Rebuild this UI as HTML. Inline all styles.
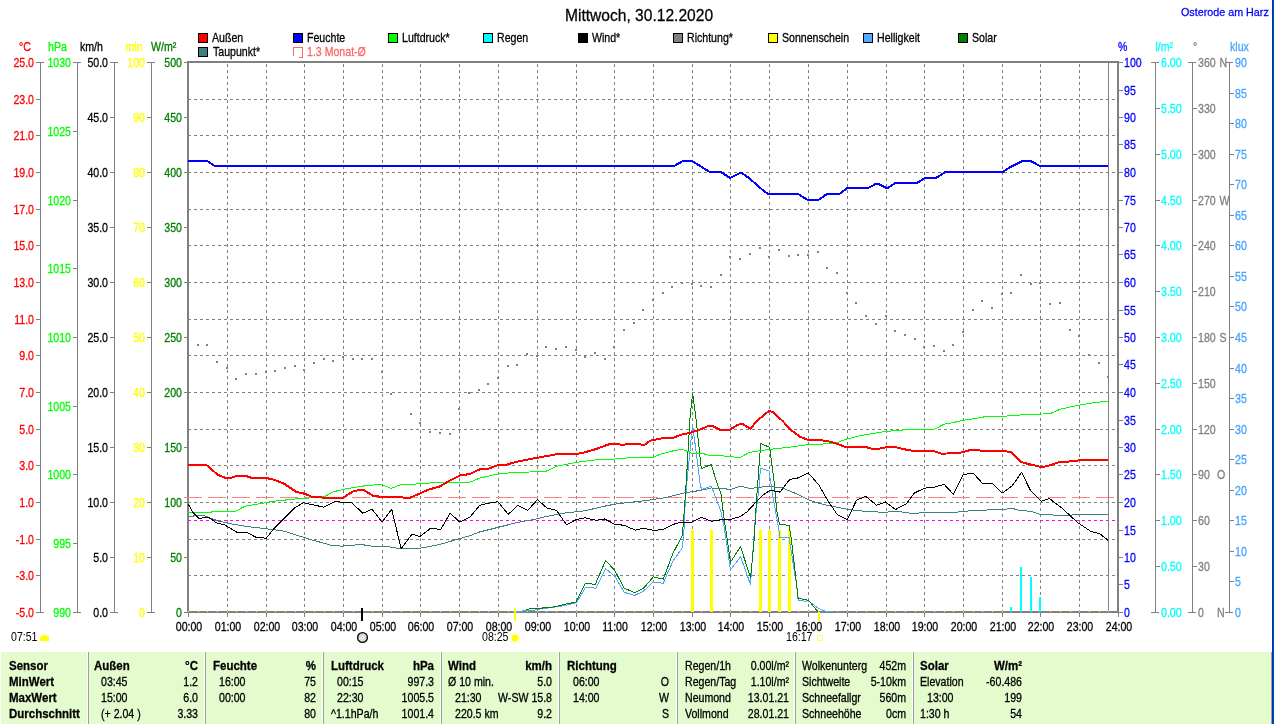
<!DOCTYPE html>
<html><head><meta charset="utf-8"><title>Mittwoch, 30.12.2020</title>
<style>html,body{margin:0;padding:0;background:#fff;overflow:hidden}svg{display:block;will-change:transform}text{font-family:"Liberation Sans",Arial,sans-serif;stroke-width:0.25px}</style>
</head><body>
<svg width="1274" height="724" viewBox="0 0 1274 724" shape-rendering="crispEdges">
<text transform="translate(639,21) scale(1.0,1.1)" fill="#000" stroke="#000" stroke-width="0" font-size="15.6" text-anchor="middle">Mittwoch, 30.12.2020</text>
<text transform="translate(1181,16) scale(1.0,1.03)" fill="#0000FF" stroke="#0000FF" stroke-width="0.12" font-size="10.75">Osterode am Harz</text>
<rect x="1272" y="0" width="1" height="724" fill="#0036B0"/>
<rect x="1273" y="0" width="1" height="724" fill="#0046C4"/>
<rect x="198.5" y="33.5" width="9" height="9" fill="#FF0000" stroke="#000"/>
<text transform="translate(212,42) scale(1.0,1.15)" fill="#000" stroke="#000" stroke-width="0.12" font-size="10.6">Außen</text>
<rect x="293.5" y="33.5" width="9" height="9" fill="#0000FF" stroke="#000"/>
<text transform="translate(307,42) scale(1.0,1.15)" fill="#000" stroke="#000" stroke-width="0.12" font-size="10.6">Feuchte</text>
<rect x="388.5" y="33.5" width="9" height="9" fill="#00FF00" stroke="#000"/>
<text transform="translate(402,42) scale(1.0,1.15)" fill="#000" stroke="#000" stroke-width="0.12" font-size="10.6">Luftdruck*</text>
<rect x="483.5" y="33.5" width="9" height="9" fill="#00FFFF" stroke="#000"/>
<text transform="translate(497,42) scale(1.0,1.15)" fill="#000" stroke="#000" stroke-width="0.12" font-size="10.6">Regen</text>
<rect x="578.5" y="33.5" width="9" height="9" fill="#000000" stroke="#000"/>
<text transform="translate(592,42) scale(1.0,1.15)" fill="#000" stroke="#000" stroke-width="0.12" font-size="10.6">Wind*</text>
<rect x="673.5" y="33.5" width="9" height="9" fill="#808080" stroke="#000"/>
<text transform="translate(687,42) scale(1.0,1.15)" fill="#000" stroke="#000" stroke-width="0.12" font-size="10.6">Richtung*</text>
<rect x="768.5" y="33.5" width="9" height="9" fill="#FFFF00" stroke="#000"/>
<text transform="translate(782,42) scale(1.0,1.15)" fill="#000" stroke="#000" stroke-width="0.12" font-size="10.6">Sonnenschein</text>
<rect x="863.5" y="33.5" width="9" height="9" fill="#55AAFF" stroke="#000"/>
<text transform="translate(877,42) scale(1.0,1.15)" fill="#000" stroke="#000" stroke-width="0.12" font-size="10.6">Helligkeit</text>
<rect x="958.5" y="33.5" width="9" height="9" fill="#008000" stroke="#000"/>
<text transform="translate(972,42) scale(1.0,1.15)" fill="#000" stroke="#000" stroke-width="0.12" font-size="10.6">Solar</text>
<rect x="198.5" y="47.5" width="9" height="9" fill="#408080" stroke="#000"/>
<text transform="translate(213,56) scale(1.0,1.15)" fill="#000" stroke="#000" stroke-width="0.12" font-size="10.6">Taupunkt*</text>
<path d="M293.5,56 V47.5 H302.5 V57.5 H299" fill="none" stroke="#FF6666" stroke-width="1"/>
<text transform="translate(307,56) scale(1.0,1.15)" fill="#FF6666" stroke="#FF6666" stroke-width="0.12" font-size="10.6">1.3 Monat-Ø</text>
<line x1="40.5" y1="62" x2="40.5" y2="613" stroke="#808080" stroke-width="1"/>
<line x1="36" y1="62.5" x2="44" y2="62.5" stroke="#808080" stroke-width="1"/>
<line x1="36" y1="612.5" x2="44" y2="612.5" stroke="#808080" stroke-width="1"/>
<text transform="translate(34,67) scale(1.0,1.15)" fill="#FF0000" stroke="#FF0000" stroke-width="0.12" font-size="10.6" text-anchor="end">25.0</text>
<line x1="36" y1="99.5" x2="40" y2="99.5" stroke="#808080" stroke-width="1"/>
<text transform="translate(34,104) scale(1.0,1.15)" fill="#FF0000" stroke="#FF0000" stroke-width="0.12" font-size="10.6" text-anchor="end">23.0</text>
<line x1="36" y1="135.5" x2="40" y2="135.5" stroke="#808080" stroke-width="1"/>
<text transform="translate(34,140) scale(1.0,1.15)" fill="#FF0000" stroke="#FF0000" stroke-width="0.12" font-size="10.6" text-anchor="end">21.0</text>
<line x1="36" y1="172.5" x2="40" y2="172.5" stroke="#808080" stroke-width="1"/>
<text transform="translate(34,177) scale(1.0,1.15)" fill="#FF0000" stroke="#FF0000" stroke-width="0.12" font-size="10.6" text-anchor="end">19.0</text>
<line x1="36" y1="209.5" x2="40" y2="209.5" stroke="#808080" stroke-width="1"/>
<text transform="translate(34,214) scale(1.0,1.15)" fill="#FF0000" stroke="#FF0000" stroke-width="0.12" font-size="10.6" text-anchor="end">17.0</text>
<line x1="36" y1="245.5" x2="40" y2="245.5" stroke="#808080" stroke-width="1"/>
<text transform="translate(34,250) scale(1.0,1.15)" fill="#FF0000" stroke="#FF0000" stroke-width="0.12" font-size="10.6" text-anchor="end">15.0</text>
<line x1="36" y1="282.5" x2="40" y2="282.5" stroke="#808080" stroke-width="1"/>
<text transform="translate(34,287) scale(1.0,1.15)" fill="#FF0000" stroke="#FF0000" stroke-width="0.12" font-size="10.6" text-anchor="end">13.0</text>
<line x1="36" y1="319.5" x2="40" y2="319.5" stroke="#808080" stroke-width="1"/>
<text transform="translate(34,324) scale(1.0,1.15)" fill="#FF0000" stroke="#FF0000" stroke-width="0.12" font-size="10.6" text-anchor="end">11.0</text>
<line x1="36" y1="355.5" x2="40" y2="355.5" stroke="#808080" stroke-width="1"/>
<text transform="translate(34,360) scale(1.0,1.15)" fill="#FF0000" stroke="#FF0000" stroke-width="0.12" font-size="10.6" text-anchor="end">9.0</text>
<line x1="36" y1="392.5" x2="40" y2="392.5" stroke="#808080" stroke-width="1"/>
<text transform="translate(34,397) scale(1.0,1.15)" fill="#FF0000" stroke="#FF0000" stroke-width="0.12" font-size="10.6" text-anchor="end">7.0</text>
<line x1="36" y1="429.5" x2="40" y2="429.5" stroke="#808080" stroke-width="1"/>
<text transform="translate(34,434) scale(1.0,1.15)" fill="#FF0000" stroke="#FF0000" stroke-width="0.12" font-size="10.6" text-anchor="end">5.0</text>
<line x1="36" y1="465.5" x2="40" y2="465.5" stroke="#808080" stroke-width="1"/>
<text transform="translate(34,470) scale(1.0,1.15)" fill="#FF0000" stroke="#FF0000" stroke-width="0.12" font-size="10.6" text-anchor="end">3.0</text>
<line x1="36" y1="502.5" x2="40" y2="502.5" stroke="#808080" stroke-width="1"/>
<text transform="translate(34,507) scale(1.0,1.15)" fill="#FF0000" stroke="#FF0000" stroke-width="0.12" font-size="10.6" text-anchor="end">1.0</text>
<line x1="36" y1="539.5" x2="40" y2="539.5" stroke="#808080" stroke-width="1"/>
<text transform="translate(34,544) scale(1.0,1.15)" fill="#FF0000" stroke="#FF0000" stroke-width="0.12" font-size="10.6" text-anchor="end">-1.0</text>
<line x1="36" y1="575.5" x2="40" y2="575.5" stroke="#808080" stroke-width="1"/>
<text transform="translate(34,580) scale(1.0,1.15)" fill="#FF0000" stroke="#FF0000" stroke-width="0.12" font-size="10.6" text-anchor="end">-3.0</text>
<text transform="translate(34,617) scale(1.0,1.15)" fill="#FF0000" stroke="#FF0000" stroke-width="0.12" font-size="10.6" text-anchor="end">-5.0</text>
<text transform="translate(19,51) scale(1.0,1.15)" fill="#FF0000" stroke="#FF0000" stroke-width="0.12" font-size="10.6">°C</text>
<line x1="77.5" y1="62" x2="77.5" y2="613" stroke="#808080" stroke-width="1"/>
<line x1="73" y1="62.5" x2="81" y2="62.5" stroke="#808080" stroke-width="1"/>
<line x1="73" y1="612.5" x2="81" y2="612.5" stroke="#808080" stroke-width="1"/>
<text transform="translate(71,67) scale(1.0,1.15)" fill="#00FF00" stroke="#00FF00" stroke-width="0.12" font-size="10.6" text-anchor="end">1030</text>
<line x1="73" y1="131.5" x2="77" y2="131.5" stroke="#808080" stroke-width="1"/>
<text transform="translate(71,136) scale(1.0,1.15)" fill="#00FF00" stroke="#00FF00" stroke-width="0.12" font-size="10.6" text-anchor="end">1025</text>
<line x1="73" y1="200.5" x2="77" y2="200.5" stroke="#808080" stroke-width="1"/>
<text transform="translate(71,205) scale(1.0,1.15)" fill="#00FF00" stroke="#00FF00" stroke-width="0.12" font-size="10.6" text-anchor="end">1020</text>
<line x1="73" y1="268.5" x2="77" y2="268.5" stroke="#808080" stroke-width="1"/>
<text transform="translate(71,273) scale(1.0,1.15)" fill="#00FF00" stroke="#00FF00" stroke-width="0.12" font-size="10.6" text-anchor="end">1015</text>
<line x1="73" y1="337.5" x2="77" y2="337.5" stroke="#808080" stroke-width="1"/>
<text transform="translate(71,342) scale(1.0,1.15)" fill="#00FF00" stroke="#00FF00" stroke-width="0.12" font-size="10.6" text-anchor="end">1010</text>
<line x1="73" y1="406.5" x2="77" y2="406.5" stroke="#808080" stroke-width="1"/>
<text transform="translate(71,411) scale(1.0,1.15)" fill="#00FF00" stroke="#00FF00" stroke-width="0.12" font-size="10.6" text-anchor="end">1005</text>
<line x1="73" y1="474.5" x2="77" y2="474.5" stroke="#808080" stroke-width="1"/>
<text transform="translate(71,479) scale(1.0,1.15)" fill="#00FF00" stroke="#00FF00" stroke-width="0.12" font-size="10.6" text-anchor="end">1000</text>
<line x1="73" y1="543.5" x2="77" y2="543.5" stroke="#808080" stroke-width="1"/>
<text transform="translate(71,548) scale(1.0,1.15)" fill="#00FF00" stroke="#00FF00" stroke-width="0.12" font-size="10.6" text-anchor="end">995</text>
<text transform="translate(71,617) scale(1.0,1.15)" fill="#00FF00" stroke="#00FF00" stroke-width="0.12" font-size="10.6" text-anchor="end">990</text>
<text transform="translate(48,51) scale(1.0,1.15)" fill="#00FF00" stroke="#00FF00" stroke-width="0.12" font-size="10.6">hPa</text>
<line x1="114.5" y1="62" x2="114.5" y2="613" stroke="#808080" stroke-width="1"/>
<line x1="110" y1="62.5" x2="118" y2="62.5" stroke="#808080" stroke-width="1"/>
<line x1="110" y1="612.5" x2="118" y2="612.5" stroke="#808080" stroke-width="1"/>
<text transform="translate(108,67) scale(1.0,1.15)" fill="#000000" stroke="#000000" stroke-width="0.12" font-size="10.6" text-anchor="end">50.0</text>
<line x1="110" y1="117.5" x2="114" y2="117.5" stroke="#808080" stroke-width="1"/>
<text transform="translate(108,122) scale(1.0,1.15)" fill="#000000" stroke="#000000" stroke-width="0.12" font-size="10.6" text-anchor="end">45.0</text>
<line x1="110" y1="172.5" x2="114" y2="172.5" stroke="#808080" stroke-width="1"/>
<text transform="translate(108,177) scale(1.0,1.15)" fill="#000000" stroke="#000000" stroke-width="0.12" font-size="10.6" text-anchor="end">40.0</text>
<line x1="110" y1="227.5" x2="114" y2="227.5" stroke="#808080" stroke-width="1"/>
<text transform="translate(108,232) scale(1.0,1.15)" fill="#000000" stroke="#000000" stroke-width="0.12" font-size="10.6" text-anchor="end">35.0</text>
<line x1="110" y1="282.5" x2="114" y2="282.5" stroke="#808080" stroke-width="1"/>
<text transform="translate(108,287) scale(1.0,1.15)" fill="#000000" stroke="#000000" stroke-width="0.12" font-size="10.6" text-anchor="end">30.0</text>
<line x1="110" y1="337.5" x2="114" y2="337.5" stroke="#808080" stroke-width="1"/>
<text transform="translate(108,342) scale(1.0,1.15)" fill="#000000" stroke="#000000" stroke-width="0.12" font-size="10.6" text-anchor="end">25.0</text>
<line x1="110" y1="392.5" x2="114" y2="392.5" stroke="#808080" stroke-width="1"/>
<text transform="translate(108,397) scale(1.0,1.15)" fill="#000000" stroke="#000000" stroke-width="0.12" font-size="10.6" text-anchor="end">20.0</text>
<line x1="110" y1="447.5" x2="114" y2="447.5" stroke="#808080" stroke-width="1"/>
<text transform="translate(108,452) scale(1.0,1.15)" fill="#000000" stroke="#000000" stroke-width="0.12" font-size="10.6" text-anchor="end">15.0</text>
<line x1="110" y1="502.5" x2="114" y2="502.5" stroke="#808080" stroke-width="1"/>
<text transform="translate(108,507) scale(1.0,1.15)" fill="#000000" stroke="#000000" stroke-width="0.12" font-size="10.6" text-anchor="end">10.0</text>
<line x1="110" y1="557.5" x2="114" y2="557.5" stroke="#808080" stroke-width="1"/>
<text transform="translate(108,562) scale(1.0,1.15)" fill="#000000" stroke="#000000" stroke-width="0.12" font-size="10.6" text-anchor="end">5.0</text>
<text transform="translate(108,617) scale(1.0,1.15)" fill="#000000" stroke="#000000" stroke-width="0.12" font-size="10.6" text-anchor="end">0.0</text>
<text transform="translate(80,51) scale(1.0,1.15)" fill="#000000" stroke="#000000" stroke-width="0.12" font-size="10.6">km/h</text>
<line x1="151.5" y1="62" x2="151.5" y2="613" stroke="#808080" stroke-width="1"/>
<line x1="147" y1="62.5" x2="155" y2="62.5" stroke="#808080" stroke-width="1"/>
<line x1="147" y1="612.5" x2="155" y2="612.5" stroke="#808080" stroke-width="1"/>
<text transform="translate(145,67) scale(1.0,1.15)" fill="#FFFF00" stroke="#FFFF00" stroke-width="0.12" font-size="10.6" text-anchor="end">100</text>
<line x1="147" y1="117.5" x2="151" y2="117.5" stroke="#808080" stroke-width="1"/>
<text transform="translate(145,122) scale(1.0,1.15)" fill="#FFFF00" stroke="#FFFF00" stroke-width="0.12" font-size="10.6" text-anchor="end">90</text>
<line x1="147" y1="172.5" x2="151" y2="172.5" stroke="#808080" stroke-width="1"/>
<text transform="translate(145,177) scale(1.0,1.15)" fill="#FFFF00" stroke="#FFFF00" stroke-width="0.12" font-size="10.6" text-anchor="end">80</text>
<line x1="147" y1="227.5" x2="151" y2="227.5" stroke="#808080" stroke-width="1"/>
<text transform="translate(145,232) scale(1.0,1.15)" fill="#FFFF00" stroke="#FFFF00" stroke-width="0.12" font-size="10.6" text-anchor="end">70</text>
<line x1="147" y1="282.5" x2="151" y2="282.5" stroke="#808080" stroke-width="1"/>
<text transform="translate(145,287) scale(1.0,1.15)" fill="#FFFF00" stroke="#FFFF00" stroke-width="0.12" font-size="10.6" text-anchor="end">60</text>
<line x1="147" y1="337.5" x2="151" y2="337.5" stroke="#808080" stroke-width="1"/>
<text transform="translate(145,342) scale(1.0,1.15)" fill="#FFFF00" stroke="#FFFF00" stroke-width="0.12" font-size="10.6" text-anchor="end">50</text>
<line x1="147" y1="392.5" x2="151" y2="392.5" stroke="#808080" stroke-width="1"/>
<text transform="translate(145,397) scale(1.0,1.15)" fill="#FFFF00" stroke="#FFFF00" stroke-width="0.12" font-size="10.6" text-anchor="end">40</text>
<line x1="147" y1="447.5" x2="151" y2="447.5" stroke="#808080" stroke-width="1"/>
<text transform="translate(145,452) scale(1.0,1.15)" fill="#FFFF00" stroke="#FFFF00" stroke-width="0.12" font-size="10.6" text-anchor="end">30</text>
<line x1="147" y1="502.5" x2="151" y2="502.5" stroke="#808080" stroke-width="1"/>
<text transform="translate(145,507) scale(1.0,1.15)" fill="#FFFF00" stroke="#FFFF00" stroke-width="0.12" font-size="10.6" text-anchor="end">20</text>
<line x1="147" y1="557.5" x2="151" y2="557.5" stroke="#808080" stroke-width="1"/>
<text transform="translate(145,562) scale(1.0,1.15)" fill="#FFFF00" stroke="#FFFF00" stroke-width="0.12" font-size="10.6" text-anchor="end">10</text>
<text transform="translate(145,617) scale(1.0,1.15)" fill="#FFFF00" stroke="#FFFF00" stroke-width="0.12" font-size="10.6" text-anchor="end">0</text>
<text transform="translate(125.5,51) scale(1.0,1.15)" fill="#FFFF00" stroke="#FFFF00" stroke-width="0.12" font-size="10.6">min</text>
<line x1="184" y1="62.5" x2="188" y2="62.5" stroke="#808080" stroke-width="1"/>
<text transform="translate(182,67) scale(1.0,1.15)" fill="#008000" stroke="#008000" stroke-width="0.12" font-size="10.6" text-anchor="end">500</text>
<line x1="184" y1="117.5" x2="188" y2="117.5" stroke="#808080" stroke-width="1"/>
<text transform="translate(182,122) scale(1.0,1.15)" fill="#008000" stroke="#008000" stroke-width="0.12" font-size="10.6" text-anchor="end">450</text>
<line x1="184" y1="172.5" x2="188" y2="172.5" stroke="#808080" stroke-width="1"/>
<text transform="translate(182,177) scale(1.0,1.15)" fill="#008000" stroke="#008000" stroke-width="0.12" font-size="10.6" text-anchor="end">400</text>
<line x1="184" y1="227.5" x2="188" y2="227.5" stroke="#808080" stroke-width="1"/>
<text transform="translate(182,232) scale(1.0,1.15)" fill="#008000" stroke="#008000" stroke-width="0.12" font-size="10.6" text-anchor="end">350</text>
<line x1="184" y1="282.5" x2="188" y2="282.5" stroke="#808080" stroke-width="1"/>
<text transform="translate(182,287) scale(1.0,1.15)" fill="#008000" stroke="#008000" stroke-width="0.12" font-size="10.6" text-anchor="end">300</text>
<line x1="184" y1="337.5" x2="188" y2="337.5" stroke="#808080" stroke-width="1"/>
<text transform="translate(182,342) scale(1.0,1.15)" fill="#008000" stroke="#008000" stroke-width="0.12" font-size="10.6" text-anchor="end">250</text>
<line x1="184" y1="392.5" x2="188" y2="392.5" stroke="#808080" stroke-width="1"/>
<text transform="translate(182,397) scale(1.0,1.15)" fill="#008000" stroke="#008000" stroke-width="0.12" font-size="10.6" text-anchor="end">200</text>
<line x1="184" y1="447.5" x2="188" y2="447.5" stroke="#808080" stroke-width="1"/>
<text transform="translate(182,452) scale(1.0,1.15)" fill="#008000" stroke="#008000" stroke-width="0.12" font-size="10.6" text-anchor="end">150</text>
<line x1="184" y1="502.5" x2="188" y2="502.5" stroke="#808080" stroke-width="1"/>
<text transform="translate(182,507) scale(1.0,1.15)" fill="#008000" stroke="#008000" stroke-width="0.12" font-size="10.6" text-anchor="end">100</text>
<line x1="184" y1="557.5" x2="188" y2="557.5" stroke="#808080" stroke-width="1"/>
<text transform="translate(182,562) scale(1.0,1.15)" fill="#008000" stroke="#008000" stroke-width="0.12" font-size="10.6" text-anchor="end">50</text>
<line x1="184" y1="612.5" x2="188" y2="612.5" stroke="#808080" stroke-width="1"/>
<text transform="translate(182,617) scale(1.0,1.15)" fill="#008000" stroke="#008000" stroke-width="0.12" font-size="10.6" text-anchor="end">0</text>
<text transform="translate(151,51) scale(1.0,1.15)" fill="#008000" stroke="#008000" stroke-width="0.12" font-size="10.6">W/m²</text>
<line x1="1119" y1="62.5" x2="1123" y2="62.5" stroke="#808080" stroke-width="1"/>
<text transform="translate(1124,67) scale(1.0,1.15)" fill="#0000FF" stroke="#0000FF" stroke-width="0.12" font-size="10.6">100</text>
<line x1="1119" y1="90.5" x2="1123" y2="90.5" stroke="#808080" stroke-width="1"/>
<text transform="translate(1124,95) scale(1.0,1.15)" fill="#0000FF" stroke="#0000FF" stroke-width="0.12" font-size="10.6">95</text>
<line x1="1119" y1="117.5" x2="1123" y2="117.5" stroke="#808080" stroke-width="1"/>
<text transform="translate(1124,122) scale(1.0,1.15)" fill="#0000FF" stroke="#0000FF" stroke-width="0.12" font-size="10.6">90</text>
<line x1="1119" y1="144.5" x2="1123" y2="144.5" stroke="#808080" stroke-width="1"/>
<text transform="translate(1124,149) scale(1.0,1.15)" fill="#0000FF" stroke="#0000FF" stroke-width="0.12" font-size="10.6">85</text>
<line x1="1119" y1="172.5" x2="1123" y2="172.5" stroke="#808080" stroke-width="1"/>
<text transform="translate(1124,177) scale(1.0,1.15)" fill="#0000FF" stroke="#0000FF" stroke-width="0.12" font-size="10.6">80</text>
<line x1="1119" y1="200.5" x2="1123" y2="200.5" stroke="#808080" stroke-width="1"/>
<text transform="translate(1124,205) scale(1.0,1.15)" fill="#0000FF" stroke="#0000FF" stroke-width="0.12" font-size="10.6">75</text>
<line x1="1119" y1="227.5" x2="1123" y2="227.5" stroke="#808080" stroke-width="1"/>
<text transform="translate(1124,232) scale(1.0,1.15)" fill="#0000FF" stroke="#0000FF" stroke-width="0.12" font-size="10.6">70</text>
<line x1="1119" y1="254.5" x2="1123" y2="254.5" stroke="#808080" stroke-width="1"/>
<text transform="translate(1124,259) scale(1.0,1.15)" fill="#0000FF" stroke="#0000FF" stroke-width="0.12" font-size="10.6">65</text>
<line x1="1119" y1="282.5" x2="1123" y2="282.5" stroke="#808080" stroke-width="1"/>
<text transform="translate(1124,287) scale(1.0,1.15)" fill="#0000FF" stroke="#0000FF" stroke-width="0.12" font-size="10.6">60</text>
<line x1="1119" y1="310.5" x2="1123" y2="310.5" stroke="#808080" stroke-width="1"/>
<text transform="translate(1124,315) scale(1.0,1.15)" fill="#0000FF" stroke="#0000FF" stroke-width="0.12" font-size="10.6">55</text>
<line x1="1119" y1="337.5" x2="1123" y2="337.5" stroke="#808080" stroke-width="1"/>
<text transform="translate(1124,342) scale(1.0,1.15)" fill="#0000FF" stroke="#0000FF" stroke-width="0.12" font-size="10.6">50</text>
<line x1="1119" y1="364.5" x2="1123" y2="364.5" stroke="#808080" stroke-width="1"/>
<text transform="translate(1124,369) scale(1.0,1.15)" fill="#0000FF" stroke="#0000FF" stroke-width="0.12" font-size="10.6">45</text>
<line x1="1119" y1="392.5" x2="1123" y2="392.5" stroke="#808080" stroke-width="1"/>
<text transform="translate(1124,397) scale(1.0,1.15)" fill="#0000FF" stroke="#0000FF" stroke-width="0.12" font-size="10.6">40</text>
<line x1="1119" y1="420.5" x2="1123" y2="420.5" stroke="#808080" stroke-width="1"/>
<text transform="translate(1124,425) scale(1.0,1.15)" fill="#0000FF" stroke="#0000FF" stroke-width="0.12" font-size="10.6">35</text>
<line x1="1119" y1="447.5" x2="1123" y2="447.5" stroke="#808080" stroke-width="1"/>
<text transform="translate(1124,452) scale(1.0,1.15)" fill="#0000FF" stroke="#0000FF" stroke-width="0.12" font-size="10.6">30</text>
<line x1="1119" y1="474.5" x2="1123" y2="474.5" stroke="#808080" stroke-width="1"/>
<text transform="translate(1124,479) scale(1.0,1.15)" fill="#0000FF" stroke="#0000FF" stroke-width="0.12" font-size="10.6">25</text>
<line x1="1119" y1="502.5" x2="1123" y2="502.5" stroke="#808080" stroke-width="1"/>
<text transform="translate(1124,507) scale(1.0,1.15)" fill="#0000FF" stroke="#0000FF" stroke-width="0.12" font-size="10.6">20</text>
<line x1="1119" y1="530.5" x2="1123" y2="530.5" stroke="#808080" stroke-width="1"/>
<text transform="translate(1124,535) scale(1.0,1.15)" fill="#0000FF" stroke="#0000FF" stroke-width="0.12" font-size="10.6">15</text>
<line x1="1119" y1="557.5" x2="1123" y2="557.5" stroke="#808080" stroke-width="1"/>
<text transform="translate(1124,562) scale(1.0,1.15)" fill="#0000FF" stroke="#0000FF" stroke-width="0.12" font-size="10.6">10</text>
<line x1="1119" y1="584.5" x2="1123" y2="584.5" stroke="#808080" stroke-width="1"/>
<text transform="translate(1124,589) scale(1.0,1.15)" fill="#0000FF" stroke="#0000FF" stroke-width="0.12" font-size="10.6">5</text>
<line x1="1119" y1="612.5" x2="1123" y2="612.5" stroke="#808080" stroke-width="1"/>
<text transform="translate(1124,617) scale(1.0,1.15)" fill="#0000FF" stroke="#0000FF" stroke-width="0.12" font-size="10.6">0</text>
<text transform="translate(1118,51) scale(1.0,1.15)" fill="#0000FF" stroke="#0000FF" stroke-width="0.12" font-size="10.6">%</text>
<line x1="1155.5" y1="62" x2="1155.5" y2="613" stroke="#808080" stroke-width="1"/>
<line x1="1151" y1="62.5" x2="1159" y2="62.5" stroke="#808080" stroke-width="1"/>
<line x1="1151" y1="612.5" x2="1159" y2="612.5" stroke="#808080" stroke-width="1"/>
<text transform="translate(1161,67) scale(1.0,1.15)" fill="#00FFFF" stroke="#00FFFF" stroke-width="0.12" font-size="10.6">6.00</text>
<line x1="1156" y1="108.5" x2="1160" y2="108.5" stroke="#808080" stroke-width="1"/>
<text transform="translate(1161,113) scale(1.0,1.15)" fill="#00FFFF" stroke="#00FFFF" stroke-width="0.12" font-size="10.6">5.50</text>
<line x1="1156" y1="154.5" x2="1160" y2="154.5" stroke="#808080" stroke-width="1"/>
<text transform="translate(1161,159) scale(1.0,1.15)" fill="#00FFFF" stroke="#00FFFF" stroke-width="0.12" font-size="10.6">5.00</text>
<line x1="1156" y1="200.5" x2="1160" y2="200.5" stroke="#808080" stroke-width="1"/>
<text transform="translate(1161,205) scale(1.0,1.15)" fill="#00FFFF" stroke="#00FFFF" stroke-width="0.12" font-size="10.6">4.50</text>
<line x1="1156" y1="245.5" x2="1160" y2="245.5" stroke="#808080" stroke-width="1"/>
<text transform="translate(1161,250) scale(1.0,1.15)" fill="#00FFFF" stroke="#00FFFF" stroke-width="0.12" font-size="10.6">4.00</text>
<line x1="1156" y1="291.5" x2="1160" y2="291.5" stroke="#808080" stroke-width="1"/>
<text transform="translate(1161,296) scale(1.0,1.15)" fill="#00FFFF" stroke="#00FFFF" stroke-width="0.12" font-size="10.6">3.50</text>
<line x1="1156" y1="337.5" x2="1160" y2="337.5" stroke="#808080" stroke-width="1"/>
<text transform="translate(1161,342) scale(1.0,1.15)" fill="#00FFFF" stroke="#00FFFF" stroke-width="0.12" font-size="10.6">3.00</text>
<line x1="1156" y1="383.5" x2="1160" y2="383.5" stroke="#808080" stroke-width="1"/>
<text transform="translate(1161,388) scale(1.0,1.15)" fill="#00FFFF" stroke="#00FFFF" stroke-width="0.12" font-size="10.6">2.50</text>
<line x1="1156" y1="429.5" x2="1160" y2="429.5" stroke="#808080" stroke-width="1"/>
<text transform="translate(1161,434) scale(1.0,1.15)" fill="#00FFFF" stroke="#00FFFF" stroke-width="0.12" font-size="10.6">2.00</text>
<line x1="1156" y1="474.5" x2="1160" y2="474.5" stroke="#808080" stroke-width="1"/>
<text transform="translate(1161,479) scale(1.0,1.15)" fill="#00FFFF" stroke="#00FFFF" stroke-width="0.12" font-size="10.6">1.50</text>
<line x1="1156" y1="520.5" x2="1160" y2="520.5" stroke="#808080" stroke-width="1"/>
<text transform="translate(1161,525) scale(1.0,1.15)" fill="#00FFFF" stroke="#00FFFF" stroke-width="0.12" font-size="10.6">1.00</text>
<line x1="1156" y1="566.5" x2="1160" y2="566.5" stroke="#808080" stroke-width="1"/>
<text transform="translate(1161,571) scale(1.0,1.15)" fill="#00FFFF" stroke="#00FFFF" stroke-width="0.12" font-size="10.6">0.50</text>
<text transform="translate(1161,617) scale(1.0,1.15)" fill="#00FFFF" stroke="#00FFFF" stroke-width="0.12" font-size="10.6">0.00</text>
<text transform="translate(1155.5,51) scale(1.0,1.15)" fill="#00FFFF" stroke="#00FFFF" stroke-width="0.12" font-size="10.6">l/m²</text>
<line x1="1192.5" y1="62" x2="1192.5" y2="613" stroke="#808080" stroke-width="1"/>
<line x1="1188" y1="62.5" x2="1196" y2="62.5" stroke="#808080" stroke-width="1"/>
<line x1="1188" y1="612.5" x2="1196" y2="612.5" stroke="#808080" stroke-width="1"/>
<text transform="translate(1198,67) scale(1.0,1.15)" fill="#808080" stroke="#808080" stroke-width="0.12" font-size="10.6">360</text>
<text transform="translate(1219.5,67) scale(1.0,1.15)" fill="#808080" stroke="#808080" stroke-width="0.12" font-size="10.6">N</text>
<line x1="1193" y1="108.5" x2="1197" y2="108.5" stroke="#808080" stroke-width="1"/>
<text transform="translate(1198,113) scale(1.0,1.15)" fill="#808080" stroke="#808080" stroke-width="0.12" font-size="10.6">330</text>
<line x1="1193" y1="154.5" x2="1197" y2="154.5" stroke="#808080" stroke-width="1"/>
<text transform="translate(1198,159) scale(1.0,1.15)" fill="#808080" stroke="#808080" stroke-width="0.12" font-size="10.6">300</text>
<line x1="1193" y1="200.5" x2="1197" y2="200.5" stroke="#808080" stroke-width="1"/>
<text transform="translate(1198,205) scale(1.0,1.15)" fill="#808080" stroke="#808080" stroke-width="0.12" font-size="10.6">270</text>
<text transform="translate(1219.5,205) scale(1.0,1.15)" fill="#808080" stroke="#808080" stroke-width="0.12" font-size="10.6">W</text>
<line x1="1193" y1="245.5" x2="1197" y2="245.5" stroke="#808080" stroke-width="1"/>
<text transform="translate(1198,250) scale(1.0,1.15)" fill="#808080" stroke="#808080" stroke-width="0.12" font-size="10.6">240</text>
<line x1="1193" y1="291.5" x2="1197" y2="291.5" stroke="#808080" stroke-width="1"/>
<text transform="translate(1198,296) scale(1.0,1.15)" fill="#808080" stroke="#808080" stroke-width="0.12" font-size="10.6">210</text>
<line x1="1193" y1="337.5" x2="1197" y2="337.5" stroke="#808080" stroke-width="1"/>
<text transform="translate(1198,342) scale(1.0,1.15)" fill="#808080" stroke="#808080" stroke-width="0.12" font-size="10.6">180</text>
<text transform="translate(1219.5,342) scale(1.0,1.15)" fill="#808080" stroke="#808080" stroke-width="0.12" font-size="10.6">S</text>
<line x1="1193" y1="383.5" x2="1197" y2="383.5" stroke="#808080" stroke-width="1"/>
<text transform="translate(1198,388) scale(1.0,1.15)" fill="#808080" stroke="#808080" stroke-width="0.12" font-size="10.6">150</text>
<line x1="1193" y1="429.5" x2="1197" y2="429.5" stroke="#808080" stroke-width="1"/>
<text transform="translate(1198,434) scale(1.0,1.15)" fill="#808080" stroke="#808080" stroke-width="0.12" font-size="10.6">120</text>
<line x1="1193" y1="474.5" x2="1197" y2="474.5" stroke="#808080" stroke-width="1"/>
<text transform="translate(1198,479) scale(1.0,1.15)" fill="#808080" stroke="#808080" stroke-width="0.12" font-size="10.6">90</text>
<text transform="translate(1217,479) scale(1.0,1.15)" fill="#808080" stroke="#808080" stroke-width="0.12" font-size="10.6">O</text>
<line x1="1193" y1="520.5" x2="1197" y2="520.5" stroke="#808080" stroke-width="1"/>
<text transform="translate(1198,525) scale(1.0,1.15)" fill="#808080" stroke="#808080" stroke-width="0.12" font-size="10.6">60</text>
<line x1="1193" y1="566.5" x2="1197" y2="566.5" stroke="#808080" stroke-width="1"/>
<text transform="translate(1198,571) scale(1.0,1.15)" fill="#808080" stroke="#808080" stroke-width="0.12" font-size="10.6">30</text>
<text transform="translate(1198,617) scale(1.0,1.15)" fill="#808080" stroke="#808080" stroke-width="0.12" font-size="10.6">0</text>
<text transform="translate(1217,617) scale(1.0,1.15)" fill="#808080" stroke="#808080" stroke-width="0.12" font-size="10.6">N</text>
<text transform="translate(1193,51) scale(1.0,1.15)" fill="#808080" stroke="#808080" stroke-width="0.12" font-size="10.6">°</text>
<line x1="1229.5" y1="62" x2="1229.5" y2="613" stroke="#808080" stroke-width="1"/>
<line x1="1225" y1="62.5" x2="1233" y2="62.5" stroke="#808080" stroke-width="1"/>
<line x1="1225" y1="612.5" x2="1233" y2="612.5" stroke="#808080" stroke-width="1"/>
<text transform="translate(1235,67) scale(1.0,1.15)" fill="#44A4FF" stroke="#44A4FF" stroke-width="0.12" font-size="10.6">90</text>
<line x1="1230" y1="93.5" x2="1234" y2="93.5" stroke="#808080" stroke-width="1"/>
<text transform="translate(1235,98) scale(1.0,1.15)" fill="#44A4FF" stroke="#44A4FF" stroke-width="0.12" font-size="10.6">85</text>
<line x1="1230" y1="123.5" x2="1234" y2="123.5" stroke="#808080" stroke-width="1"/>
<text transform="translate(1235,128) scale(1.0,1.15)" fill="#44A4FF" stroke="#44A4FF" stroke-width="0.12" font-size="10.6">80</text>
<line x1="1230" y1="154.5" x2="1234" y2="154.5" stroke="#808080" stroke-width="1"/>
<text transform="translate(1235,159) scale(1.0,1.15)" fill="#44A4FF" stroke="#44A4FF" stroke-width="0.12" font-size="10.6">75</text>
<line x1="1230" y1="184.5" x2="1234" y2="184.5" stroke="#808080" stroke-width="1"/>
<text transform="translate(1235,189) scale(1.0,1.15)" fill="#44A4FF" stroke="#44A4FF" stroke-width="0.12" font-size="10.6">70</text>
<line x1="1230" y1="215.5" x2="1234" y2="215.5" stroke="#808080" stroke-width="1"/>
<text transform="translate(1235,220) scale(1.0,1.15)" fill="#44A4FF" stroke="#44A4FF" stroke-width="0.12" font-size="10.6">65</text>
<line x1="1230" y1="245.5" x2="1234" y2="245.5" stroke="#808080" stroke-width="1"/>
<text transform="translate(1235,250) scale(1.0,1.15)" fill="#44A4FF" stroke="#44A4FF" stroke-width="0.12" font-size="10.6">60</text>
<line x1="1230" y1="276.5" x2="1234" y2="276.5" stroke="#808080" stroke-width="1"/>
<text transform="translate(1235,281) scale(1.0,1.15)" fill="#44A4FF" stroke="#44A4FF" stroke-width="0.12" font-size="10.6">55</text>
<line x1="1230" y1="306.5" x2="1234" y2="306.5" stroke="#808080" stroke-width="1"/>
<text transform="translate(1235,311) scale(1.0,1.15)" fill="#44A4FF" stroke="#44A4FF" stroke-width="0.12" font-size="10.6">50</text>
<line x1="1230" y1="337.5" x2="1234" y2="337.5" stroke="#808080" stroke-width="1"/>
<text transform="translate(1235,342) scale(1.0,1.15)" fill="#44A4FF" stroke="#44A4FF" stroke-width="0.12" font-size="10.6">45</text>
<line x1="1230" y1="368.5" x2="1234" y2="368.5" stroke="#808080" stroke-width="1"/>
<text transform="translate(1235,373) scale(1.0,1.15)" fill="#44A4FF" stroke="#44A4FF" stroke-width="0.12" font-size="10.6">40</text>
<line x1="1230" y1="398.5" x2="1234" y2="398.5" stroke="#808080" stroke-width="1"/>
<text transform="translate(1235,403) scale(1.0,1.15)" fill="#44A4FF" stroke="#44A4FF" stroke-width="0.12" font-size="10.6">35</text>
<line x1="1230" y1="429.5" x2="1234" y2="429.5" stroke="#808080" stroke-width="1"/>
<text transform="translate(1235,434) scale(1.0,1.15)" fill="#44A4FF" stroke="#44A4FF" stroke-width="0.12" font-size="10.6">30</text>
<line x1="1230" y1="459.5" x2="1234" y2="459.5" stroke="#808080" stroke-width="1"/>
<text transform="translate(1235,464) scale(1.0,1.15)" fill="#44A4FF" stroke="#44A4FF" stroke-width="0.12" font-size="10.6">25</text>
<line x1="1230" y1="490.5" x2="1234" y2="490.5" stroke="#808080" stroke-width="1"/>
<text transform="translate(1235,495) scale(1.0,1.15)" fill="#44A4FF" stroke="#44A4FF" stroke-width="0.12" font-size="10.6">20</text>
<line x1="1230" y1="520.5" x2="1234" y2="520.5" stroke="#808080" stroke-width="1"/>
<text transform="translate(1235,525) scale(1.0,1.15)" fill="#44A4FF" stroke="#44A4FF" stroke-width="0.12" font-size="10.6">15</text>
<line x1="1230" y1="551.5" x2="1234" y2="551.5" stroke="#808080" stroke-width="1"/>
<text transform="translate(1235,556) scale(1.0,1.15)" fill="#44A4FF" stroke="#44A4FF" stroke-width="0.12" font-size="10.6">10</text>
<line x1="1230" y1="581.5" x2="1234" y2="581.5" stroke="#808080" stroke-width="1"/>
<text transform="translate(1235,586) scale(1.0,1.15)" fill="#44A4FF" stroke="#44A4FF" stroke-width="0.12" font-size="10.6">5</text>
<text transform="translate(1235,617) scale(1.0,1.15)" fill="#44A4FF" stroke="#44A4FF" stroke-width="0.12" font-size="10.6">0</text>
<text transform="translate(1230,51) scale(1.0,1.15)" fill="#44A4FF" stroke="#44A4FF" stroke-width="0.12" font-size="10.6">klux</text>
<path d="M227.5,613V63M266.5,613V63M304.5,613V63M343.5,613V63M382.5,613V63M420.5,613V63M459.5,613V63M498.5,613V63M537.5,613V63M576.5,613V63M614.5,613V63M653.5,613V63M692.5,613V63M730.5,613V63M769.5,613V63M808.5,613V63M847.5,613V63M886.5,613V63M924.5,613V63M963.5,613V63M1002.5,613V63M1040.5,613V63M1079.5,613V63M188,99.5H1117M188,135.5H1117M188,172.5H1117M188,209.5H1117M188,245.5H1117M188,282.5H1117M188,319.5H1117M188,355.5H1117M188,392.5H1117M188,429.5H1117M188,465.5H1117M188,502.5H1117M188,539.5H1117M188,575.5H1117" stroke="#808080" stroke-width="1" stroke-dasharray="3,3" fill="none"/>
<line x1="188.5" y1="612" x2="188.5" y2="617" stroke="#808080" stroke-width="1"/>
<text transform="translate(189,631) scale(1.0,1.15)" fill="#000" stroke="#000" stroke-width="0.12" font-size="10.6" text-anchor="middle">00:00</text>
<line x1="227.5" y1="612" x2="227.5" y2="617" stroke="#808080" stroke-width="1"/>
<text transform="translate(228,631) scale(1.0,1.15)" fill="#000" stroke="#000" stroke-width="0.12" font-size="10.6" text-anchor="middle">01:00</text>
<line x1="266.5" y1="612" x2="266.5" y2="617" stroke="#808080" stroke-width="1"/>
<text transform="translate(267,631) scale(1.0,1.15)" fill="#000" stroke="#000" stroke-width="0.12" font-size="10.6" text-anchor="middle">02:00</text>
<line x1="304.5" y1="612" x2="304.5" y2="617" stroke="#808080" stroke-width="1"/>
<text transform="translate(305,631) scale(1.0,1.15)" fill="#000" stroke="#000" stroke-width="0.12" font-size="10.6" text-anchor="middle">03:00</text>
<line x1="343.5" y1="612" x2="343.5" y2="617" stroke="#808080" stroke-width="1"/>
<text transform="translate(344,631) scale(1.0,1.15)" fill="#000" stroke="#000" stroke-width="0.12" font-size="10.6" text-anchor="middle">04:00</text>
<line x1="382.5" y1="612" x2="382.5" y2="617" stroke="#808080" stroke-width="1"/>
<text transform="translate(383,631) scale(1.0,1.15)" fill="#000" stroke="#000" stroke-width="0.12" font-size="10.6" text-anchor="middle">05:00</text>
<line x1="420.5" y1="612" x2="420.5" y2="617" stroke="#808080" stroke-width="1"/>
<text transform="translate(421,631) scale(1.0,1.15)" fill="#000" stroke="#000" stroke-width="0.12" font-size="10.6" text-anchor="middle">06:00</text>
<line x1="459.5" y1="612" x2="459.5" y2="617" stroke="#808080" stroke-width="1"/>
<text transform="translate(460,631) scale(1.0,1.15)" fill="#000" stroke="#000" stroke-width="0.12" font-size="10.6" text-anchor="middle">07:00</text>
<line x1="498.5" y1="612" x2="498.5" y2="617" stroke="#808080" stroke-width="1"/>
<text transform="translate(499,631) scale(1.0,1.15)" fill="#000" stroke="#000" stroke-width="0.12" font-size="10.6" text-anchor="middle">08:00</text>
<line x1="537.5" y1="612" x2="537.5" y2="617" stroke="#808080" stroke-width="1"/>
<text transform="translate(538,631) scale(1.0,1.15)" fill="#000" stroke="#000" stroke-width="0.12" font-size="10.6" text-anchor="middle">09:00</text>
<line x1="576.5" y1="612" x2="576.5" y2="617" stroke="#808080" stroke-width="1"/>
<text transform="translate(577,631) scale(1.0,1.15)" fill="#000" stroke="#000" stroke-width="0.12" font-size="10.6" text-anchor="middle">10:00</text>
<line x1="614.5" y1="612" x2="614.5" y2="617" stroke="#808080" stroke-width="1"/>
<text transform="translate(615,631) scale(1.0,1.15)" fill="#000" stroke="#000" stroke-width="0.12" font-size="10.6" text-anchor="middle">11:00</text>
<line x1="653.5" y1="612" x2="653.5" y2="617" stroke="#808080" stroke-width="1"/>
<text transform="translate(654,631) scale(1.0,1.15)" fill="#000" stroke="#000" stroke-width="0.12" font-size="10.6" text-anchor="middle">12:00</text>
<line x1="692.5" y1="612" x2="692.5" y2="617" stroke="#808080" stroke-width="1"/>
<text transform="translate(693,631) scale(1.0,1.15)" fill="#000" stroke="#000" stroke-width="0.12" font-size="10.6" text-anchor="middle">13:00</text>
<line x1="730.5" y1="612" x2="730.5" y2="617" stroke="#808080" stroke-width="1"/>
<text transform="translate(731,631) scale(1.0,1.15)" fill="#000" stroke="#000" stroke-width="0.12" font-size="10.6" text-anchor="middle">14:00</text>
<line x1="769.5" y1="612" x2="769.5" y2="617" stroke="#808080" stroke-width="1"/>
<text transform="translate(770,631) scale(1.0,1.15)" fill="#000" stroke="#000" stroke-width="0.12" font-size="10.6" text-anchor="middle">15:00</text>
<line x1="808.5" y1="612" x2="808.5" y2="617" stroke="#808080" stroke-width="1"/>
<text transform="translate(809,631) scale(1.0,1.15)" fill="#000" stroke="#000" stroke-width="0.12" font-size="10.6" text-anchor="middle">16:00</text>
<line x1="847.5" y1="612" x2="847.5" y2="617" stroke="#808080" stroke-width="1"/>
<text transform="translate(848,631) scale(1.0,1.15)" fill="#000" stroke="#000" stroke-width="0.12" font-size="10.6" text-anchor="middle">17:00</text>
<line x1="886.5" y1="612" x2="886.5" y2="617" stroke="#808080" stroke-width="1"/>
<text transform="translate(887,631) scale(1.0,1.15)" fill="#000" stroke="#000" stroke-width="0.12" font-size="10.6" text-anchor="middle">18:00</text>
<line x1="924.5" y1="612" x2="924.5" y2="617" stroke="#808080" stroke-width="1"/>
<text transform="translate(925,631) scale(1.0,1.15)" fill="#000" stroke="#000" stroke-width="0.12" font-size="10.6" text-anchor="middle">19:00</text>
<line x1="963.5" y1="612" x2="963.5" y2="617" stroke="#808080" stroke-width="1"/>
<text transform="translate(964,631) scale(1.0,1.15)" fill="#000" stroke="#000" stroke-width="0.12" font-size="10.6" text-anchor="middle">20:00</text>
<line x1="1002.5" y1="612" x2="1002.5" y2="617" stroke="#808080" stroke-width="1"/>
<text transform="translate(1003,631) scale(1.0,1.15)" fill="#000" stroke="#000" stroke-width="0.12" font-size="10.6" text-anchor="middle">21:00</text>
<line x1="1040.5" y1="612" x2="1040.5" y2="617" stroke="#808080" stroke-width="1"/>
<text transform="translate(1041,631) scale(1.0,1.15)" fill="#000" stroke="#000" stroke-width="0.12" font-size="10.6" text-anchor="middle">22:00</text>
<line x1="1079.5" y1="612" x2="1079.5" y2="617" stroke="#808080" stroke-width="1"/>
<text transform="translate(1080,631) scale(1.0,1.15)" fill="#000" stroke="#000" stroke-width="0.12" font-size="10.6" text-anchor="middle">23:00</text>
<line x1="1118.5" y1="612" x2="1118.5" y2="617" stroke="#808080" stroke-width="1"/>
<text transform="translate(1119,631) scale(1.0,1.15)" fill="#000" stroke="#000" stroke-width="0.12" font-size="10.6" text-anchor="middle">24:00</text>
<rect x="188" y="62" width="930" height="550" fill="none" stroke="#808080" stroke-width="2"/>
<path d="M184,497.5 H1114" stroke="#FF8080" stroke-width="1" stroke-dasharray="18,6" fill="none"/>
<path d="M188,520.5 H1117" stroke="#FF00FF" stroke-width="1" stroke-dasharray="3,3" fill="none"/>
<path d="M1108.5,62 V612" stroke="#808080" stroke-width="1" fill="none"/>
<rect x="197" y="344" width="2" height="2" fill="#808080"/>
<rect x="206" y="344" width="2" height="2" fill="#808080"/>
<rect x="216" y="361" width="2" height="2" fill="#808080"/>
<rect x="226" y="367" width="2" height="2" fill="#808080"/>
<rect x="235" y="378" width="2" height="2" fill="#808080"/>
<rect x="245" y="373" width="2" height="2" fill="#808080"/>
<rect x="255" y="373" width="2" height="2" fill="#808080"/>
<rect x="265" y="371" width="2" height="2" fill="#808080"/>
<rect x="274" y="370" width="2" height="2" fill="#808080"/>
<rect x="284" y="367" width="2" height="2" fill="#808080"/>
<rect x="294" y="365" width="2" height="2" fill="#808080"/>
<rect x="303" y="369" width="2" height="2" fill="#808080"/>
<rect x="313" y="362" width="2" height="2" fill="#808080"/>
<rect x="323" y="358" width="2" height="2" fill="#808080"/>
<rect x="332" y="360" width="2" height="2" fill="#808080"/>
<rect x="342" y="356" width="2" height="2" fill="#808080"/>
<rect x="352" y="358" width="2" height="2" fill="#808080"/>
<rect x="361" y="358" width="2" height="2" fill="#808080"/>
<rect x="371" y="358" width="2" height="2" fill="#808080"/>
<rect x="381" y="371" width="2" height="2" fill="#808080"/>
<rect x="390" y="393" width="2" height="2" fill="#808080"/>
<rect x="410" y="413" width="2" height="2" fill="#808080"/>
<rect x="419" y="422" width="2" height="2" fill="#808080"/>
<rect x="429" y="431" width="2" height="2" fill="#808080"/>
<rect x="439" y="432" width="2" height="2" fill="#808080"/>
<rect x="449" y="433" width="2" height="2" fill="#808080"/>
<rect x="458" y="408" width="2" height="2" fill="#808080"/>
<rect x="468" y="392" width="2" height="2" fill="#808080"/>
<rect x="478" y="389" width="2" height="2" fill="#808080"/>
<rect x="487" y="383" width="2" height="2" fill="#808080"/>
<rect x="497" y="377" width="2" height="2" fill="#808080"/>
<rect x="507" y="365" width="2" height="2" fill="#808080"/>
<rect x="516" y="364" width="2" height="2" fill="#808080"/>
<rect x="526" y="353" width="2" height="2" fill="#808080"/>
<rect x="536" y="355" width="2" height="2" fill="#808080"/>
<rect x="545" y="346" width="2" height="2" fill="#808080"/>
<rect x="555" y="348" width="2" height="2" fill="#808080"/>
<rect x="565" y="346" width="2" height="2" fill="#808080"/>
<rect x="575" y="349" width="2" height="2" fill="#808080"/>
<rect x="584" y="356" width="2" height="2" fill="#808080"/>
<rect x="594" y="352" width="2" height="2" fill="#808080"/>
<rect x="604" y="358" width="2" height="2" fill="#808080"/>
<rect x="613" y="346" width="2" height="2" fill="#808080"/>
<rect x="623" y="329" width="2" height="2" fill="#808080"/>
<rect x="633" y="322" width="2" height="2" fill="#808080"/>
<rect x="642" y="309" width="2" height="2" fill="#808080"/>
<rect x="652" y="299" width="2" height="2" fill="#808080"/>
<rect x="662" y="292" width="2" height="2" fill="#808080"/>
<rect x="671" y="286" width="2" height="2" fill="#808080"/>
<rect x="681" y="282" width="2" height="2" fill="#808080"/>
<rect x="691" y="283" width="2" height="2" fill="#808080"/>
<rect x="700" y="285" width="2" height="2" fill="#808080"/>
<rect x="710" y="286" width="2" height="2" fill="#808080"/>
<rect x="720" y="274" width="2" height="2" fill="#808080"/>
<rect x="729" y="256" width="2" height="2" fill="#808080"/>
<rect x="739" y="258" width="2" height="2" fill="#808080"/>
<rect x="749" y="253" width="2" height="2" fill="#808080"/>
<rect x="759" y="247" width="2" height="2" fill="#808080"/>
<rect x="768" y="256" width="2" height="2" fill="#808080"/>
<rect x="778" y="249" width="2" height="2" fill="#808080"/>
<rect x="788" y="255" width="2" height="2" fill="#808080"/>
<rect x="797" y="254" width="2" height="2" fill="#808080"/>
<rect x="807" y="254" width="2" height="2" fill="#808080"/>
<rect x="817" y="251" width="2" height="2" fill="#808080"/>
<rect x="826" y="267" width="2" height="2" fill="#808080"/>
<rect x="836" y="272" width="2" height="2" fill="#808080"/>
<rect x="846" y="292" width="2" height="2" fill="#808080"/>
<rect x="855" y="302" width="2" height="2" fill="#808080"/>
<rect x="865" y="315" width="2" height="2" fill="#808080"/>
<rect x="875" y="323" width="2" height="2" fill="#808080"/>
<rect x="885" y="315" width="2" height="2" fill="#808080"/>
<rect x="894" y="330" width="2" height="2" fill="#808080"/>
<rect x="904" y="334" width="2" height="2" fill="#808080"/>
<rect x="914" y="338" width="2" height="2" fill="#808080"/>
<rect x="923" y="346" width="2" height="2" fill="#808080"/>
<rect x="933" y="345" width="2" height="2" fill="#808080"/>
<rect x="943" y="350" width="2" height="2" fill="#808080"/>
<rect x="952" y="344" width="2" height="2" fill="#808080"/>
<rect x="962" y="331" width="2" height="2" fill="#808080"/>
<rect x="972" y="309" width="2" height="2" fill="#808080"/>
<rect x="981" y="300" width="2" height="2" fill="#808080"/>
<rect x="991" y="307" width="2" height="2" fill="#808080"/>
<rect x="1001" y="293" width="2" height="2" fill="#808080"/>
<rect x="1010" y="292" width="2" height="2" fill="#808080"/>
<rect x="1020" y="274" width="2" height="2" fill="#808080"/>
<rect x="1030" y="283" width="2" height="2" fill="#808080"/>
<rect x="1039" y="282" width="2" height="2" fill="#808080"/>
<rect x="1049" y="303" width="2" height="2" fill="#808080"/>
<rect x="1059" y="302" width="2" height="2" fill="#808080"/>
<rect x="1069" y="329" width="2" height="2" fill="#808080"/>
<rect x="1078" y="335" width="2" height="2" fill="#808080"/>
<rect x="1088" y="354" width="2" height="2" fill="#808080"/>
<rect x="1098" y="362" width="2" height="2" fill="#808080"/>
<rect x="1107" y="376" width="2" height="2" fill="#808080"/>
<path d="M188,611h1v1h-1zM198,611h1v1h-1zM207,611h1v1h-1zM217,611h1v1h-1zM227,611h1v1h-1zM236,611h1v1h-1zM246,611h1v1h-1zM256,611h1v1h-1zM266,611h1v1h-1zM275,611h1v1h-1zM285,611h1v1h-1zM295,611h1v1h-1zM304,611h1v1h-1zM314,611h1v1h-1zM324,611h1v1h-1zM333,611h1v1h-1zM343,611h1v1h-1zM353,611h1v1h-1zM362,611h1v1h-1zM372,611h1v1h-1zM382,611h1v1h-1zM391,611h1v1h-1zM401,611h1v1h-1zM411,611h1v1h-1zM420,611h1v1h-1zM430,611h1v1h-1zM440,611h1v1h-1zM450,611h1v1h-1zM459,611h1v1h-1zM469,611h1v1h-1zM479,611h1v1h-1zM488,611h1v1h-1zM498,611h1v1h-1zM508,611h1v1h-1zM517,611h1v1h-1zM527,611h1v1h-1zM537,611h1v1h-1zM546,611h1v1h-1zM556,611h1v1h-1zM566,611h1v1h-1zM576,611h1v1h-1zM585,611h1v1h-1zM595,611h1v1h-1zM605,611h1v1h-1zM614,611h1v1h-1zM624,611h1v1h-1zM634,611h1v1h-1zM643,611h1v1h-1zM653,611h1v1h-1zM663,611h1v1h-1zM672,611h1v1h-1zM682,611h1v1h-1zM692,611h1v1h-1zM701,611h1v1h-1zM711,611h1v1h-1zM721,611h1v1h-1zM730,611h1v1h-1zM740,611h1v1h-1zM750,611h1v1h-1zM760,611h1v1h-1zM769,611h1v1h-1zM779,611h1v1h-1zM789,611h1v1h-1zM798,611h1v1h-1zM808,611h1v1h-1zM818,611h1v1h-1zM827,611h1v1h-1zM837,611h1v1h-1zM847,611h1v1h-1zM856,611h1v1h-1zM866,611h1v1h-1zM876,611h1v1h-1zM886,611h1v1h-1zM895,611h1v1h-1zM905,611h1v1h-1zM915,611h1v1h-1zM924,611h1v1h-1zM934,611h1v1h-1zM944,611h1v1h-1zM953,611h1v1h-1zM963,611h1v1h-1zM973,611h1v1h-1zM982,611h1v1h-1zM992,611h1v1h-1zM1002,611h1v1h-1zM1011,611h1v1h-1zM1021,611h1v1h-1zM1031,611h1v1h-1zM1040,611h1v1h-1zM1050,611h1v1h-1zM1060,611h1v1h-1zM1070,611h1v1h-1zM1079,611h1v1h-1zM1089,611h1v1h-1zM1099,611h1v1h-1zM1108,611h1v1h-1z" fill="#FFFF00"/>
<rect x="691" y="530" width="3" height="82" fill="#FFFF00"/>
<rect x="710" y="530" width="3" height="82" fill="#FFFF00"/>
<rect x="759" y="530" width="3" height="82" fill="#FFFF00"/>
<rect x="768" y="530" width="3" height="82" fill="#FFFF00"/>
<rect x="778" y="530" width="3" height="82" fill="#FFFF00"/>
<rect x="788" y="530" width="3" height="82" fill="#FFFF00"/>
<rect x="1010" y="607" width="2" height="5" fill="#00FFFF"/>
<rect x="1020" y="567" width="2" height="45" fill="#00FFFF"/>
<rect x="1030" y="577" width="2" height="35" fill="#00FFFF"/>
<rect x="1039" y="597" width="2" height="15" fill="#00FFFF"/>
<path d="M513.0,611.5 L522.0,611.5 L523.0,610.5 L532.0,610.5 L540.0,609.0 L552.0,607.5 L560.0,606.3 L568.3,604.8 L576.6,602.7 L585.4,587.7 L591.1,587.7 L595.8,588.2 L605.6,568.5 L609.7,572.1 L614.9,576.3 L624.2,592.3 L634.6,595.4 L643.3,591.3 L653.3,582.1 L658.2,582.4 L663.2,583.5 L667.1,574.1 L673.1,560.9 L682.5,547.6 L683.1,539.9 L684.2,526.6 L685.0,507.6 L687.1,480.0 L692.6,424.5 L700.2,484.4 L701.6,489.7 L711.3,486.2 L715.4,496.6 L721.0,511.8 L724.4,528.3 L730.5,570.0 L740.6,556.6 L750.5,584.6 L751.7,567.9 L755.2,519.5 L759.3,485.0 L760.4,468.2 L769.0,471.0 L772.5,494.4 L777.3,520.9 L780.0,537.5 L789.0,537.5 L796.6,585.0 L798.1,600.1 L804.9,601.1 L808.5,600.9 L818.3,608.4 L825.6,611.3 L832.8,611.5" fill="none" stroke="#4DA6FF" stroke-width="1" stroke-linejoin="miter"/>
<path d="M526.0,609.5 L533.0,608.5 L540.0,608.5 L545.0,607.5 L551.0,607.5 L560.0,605.5 L564.1,604.5 L569.3,603.4 L576.1,602.2 L585.4,583.5 L590.1,583.5 L595.2,584.6 L605.6,560.5 L614.9,570.6 L624.2,588.2 L634.6,592.6 L643.3,588.5 L653.3,576.9 L657.7,578.0 L663.2,579.1 L666.5,570.8 L670.4,559.8 L673.1,553.1 L682.0,536.0 L683.1,526.6 L683.6,520.0 L686.4,480.0 L690.2,415.0 L692.6,393.4 L696.1,419.5 L700.9,465.1 L701.6,468.6 L711.3,464.4 L716.5,482.0 L721.0,494.0 L723.7,516.0 L727.2,539.0 L730.5,562.0 L740.6,546.7 L750.5,577.8 L753.8,544.4 L756.6,498.8 L760.7,443.3 L769.7,447.5 L774.5,485.0 L776.6,509.9 L779.4,524.4 L789.0,525.3 L791.1,537.5 L798.1,597.5 L799.2,598.5 L808.5,600.3 L817.8,611.5" fill="none" stroke="#008000" stroke-width="1" stroke-linejoin="miter"/>
<path d="M188.0,516.6 L193.0,516.6 L193.5,515.2 L202.6,515.2 L206.5,516.6 L218.2,521.0 L234.7,524.6 L251.3,527.0 L266.2,528.7 L284.5,531.2 L300.0,536.2 L313.3,540.3 L331.5,545.3 L341.4,546.1 L361.3,544.5 L371.3,546.1 L384.5,546.1 L399.5,548.6 L420.0,548.1 L423.3,547.7 L439.9,544.4 L459.8,538.6 L469.7,535.8 L479.6,532.0 L497.9,527.4 L517.8,522.4 L535.0,519.2 L546.6,516.5 L563.2,513.2 L584.7,510.8 L604.6,506.2 L614.5,504.2 L629.5,502.4 L650.0,500.1 L653.3,499.3 L665.7,497.7 L683.7,493.1 L700.2,490.4 L711.3,488.0 L722.3,488.6 L730.6,489.4 L740.3,486.2 L749.7,488.5 L767.6,486.4 L781.4,487.5 L795.2,493.3 L809.1,500.2 L822.9,504.3 L836.7,507.1 L848.3,509.5 L863.2,511.1 L884.7,512.4 L896.3,511.1 L912.9,513.6 L924.5,512.4 L940.0,512.4 L957.4,512.4 L958.8,511.5 L967.3,511.5 L968.7,510.3 L986.6,510.3 L987.6,509.4 L1005.9,509.4 L1007.8,508.5 L1013.4,508.5 L1015.3,509.4 L1019.1,510.3 L1026.6,511.0 L1033.2,512.1 L1039.8,514.3 L1045.9,514.8 L1060.0,515.2 L1079.8,514.9 L1108.0,514.4" fill="none" stroke="#408080" stroke-width="1" stroke-linejoin="miter"/>
<path d="M188.0,512.5 L210.7,512.5 L212.4,511.3 L235.6,511.3 L244.7,506.3 L266.2,502.7 L272.9,501.3 L305.0,498.0 L308.3,498.1 L324.9,496.4 L333.2,491.8 L343.1,489.4 L354.7,487.3 L366.3,485.6 L381.2,484.3 L391.2,488.5 L401.1,484.5 L416.0,484.0 L420.0,483.4 L448.2,482.3 L469.7,482.3 L479.6,478.1 L497.9,474.0 L514.5,472.3 L530.0,472.0 L545.7,471.4 L556.5,466.4 L566.5,464.3 L576.4,462.3 L586.4,461.1 L601.3,459.3 L612.9,459.3 L622.8,458.1 L636.1,457.8 L645.0,457.1 L653.3,457.1 L661.6,453.8 L672.6,451.0 L682.3,449.2 L692.0,453.4 L703.0,453.6 L709.9,455.4 L726.5,456.1 L737.5,457.5 L740.0,457.4 L749.7,452.3 L767.6,449.6 L787.0,447.5 L807.7,444.7 L835.0,443.5 L846.6,439.0 L859.9,435.7 L884.7,431.5 L904.6,429.9 L919.5,429.9 L924.5,429.1 L934.5,429.1 L944.4,424.1 L950.0,423.2 L963.3,420.3 L974.9,418.5 L988.1,416.2 L1004.7,416.2 L1026.2,414.5 L1042.8,414.0 L1051.1,413.2 L1059.4,409.6 L1062.1,408.8 L1079.8,405.0 L1093.0,402.8 L1108.0,401.0" fill="none" stroke="#00FF00" stroke-width="1" stroke-linejoin="miter"/>
<path d="M188.0,503.8 L193.3,513.0 L198.3,518.0 L201.6,518.0 L208.2,517.0 L216.5,522.9 L224.8,525.0 L236.4,532.0 L246.4,532.0 L256.3,537.5 L266.2,538.2 L274.5,527.9 L294.4,508.0 L303.3,502.7 L324.0,507.2 L334.8,501.4 L343.1,502.4 L352.2,503.0 L362.7,513.3 L372.1,509.2 L382.0,522.1 L391.7,509.2 L401.1,548.6 L411.9,534.2 L420.0,536.5 L430.7,528.2 L440.7,529.5 L450.1,513.3 L459.8,522.0 L469.7,517.4 L479.6,505.5 L487.9,503.3 L497.9,501.7 L508.2,514.3 L517.8,505.5 L527.7,510.4 L537.5,499.6 L546.6,507.8 L556.5,510.3 L566.5,524.8 L576.4,519.5 L584.7,517.8 L596.3,520.3 L604.6,519.0 L614.5,524.1 L624.5,525.4 L635.3,530.2 L643.3,528.3 L654.4,530.5 L663.2,529.4 L667.6,527.2 L673.1,524.4 L678.7,522.8 L692.0,522.1 L701.6,517.3 L711.3,521.2 L722.3,519.6 L730.6,519.4 L740.3,516.6 L746.9,511.9 L755.2,503.0 L763.5,494.7 L769.7,490.5 L775.9,491.2 L779.4,492.2 L781.4,490.5 L784.2,486.4 L789.7,479.5 L798.0,477.9 L808.4,473.0 L818.7,484.8 L828.4,501.6 L837.4,514.7 L847.4,519.7 L856.5,500.3 L865.7,496.2 L876.4,505.3 L885.6,502.0 L895.5,509.5 L906.3,503.7 L914.6,492.9 L924.5,488.2 L934.5,487.1 L944.1,484.3 L953.4,494.3 L963.3,474.5 L973.2,473.2 L982.3,483.2 L992.3,483.2 L1002.2,493.1 L1012.2,485.8 L1021.6,472.4 L1030.4,490.3 L1041.2,501.4 L1049.5,498.6 L1062.1,508.2 L1077.6,522.6 L1090.8,531.4 L1099.7,533.6 L1108.0,540.3" fill="none" stroke="#000000" stroke-width="1" stroke-linejoin="miter"/>
<path d="M188.0,465.0 L206.5,465.0 L218.0,475.0 L226.0,478.0 L230.6,478.0 L238.0,475.6 L244.7,475.6 L251.3,477.8 L266.2,478.0 L274.5,479.8 L284.5,484.0 L296.0,491.7 L305.0,493.9 L311.6,496.7 L324.9,497.7 L343.1,497.7 L353.0,491.4 L359.7,489.8 L363.8,490.1 L372.9,495.6 L379.6,496.7 L391.2,497.2 L410.2,497.7 L420.0,493.4 L428.3,489.7 L439.9,486.4 L449.8,480.6 L459.8,475.6 L469.7,474.0 L480.5,469.0 L488.8,468.5 L498.7,464.9 L507.0,464.5 L517.8,461.5 L535.0,458.2 L546.6,456.1 L557.3,454.0 L576.4,454.0 L584.7,452.3 L596.3,449.0 L606.2,445.2 L611.2,443.7 L617.8,444.0 L621.2,444.9 L629.5,444.0 L637.7,444.0 L644.4,444.9 L650.0,440.7 L658.8,438.9 L664.3,437.9 L674.0,437.5 L680.9,434.7 L690.6,432.7 L700.2,429.5 L709.2,425.7 L712.7,426.2 L719.6,429.5 L730.0,429.5 L736.2,425.7 L740.3,424.0 L742.8,424.0 L750.4,428.8 L756.6,421.2 L769.0,410.9 L773.1,412.3 L782.8,421.2 L791.1,430.2 L799.4,436.4 L807.7,439.9 L825.6,440.6 L833.9,442.7 L844.9,446.8 L864.8,446.8 L871.5,448.6 L879.8,448.6 L888.0,446.8 L894.7,446.8 L903.0,449.0 L911.2,450.6 L932.8,450.6 L941.1,453.6 L958.3,453.3 L971.5,449.7 L976.5,450.0 L983.2,451.0 L1001.4,451.0 L1010.5,451.8 L1021.3,462.1 L1029.6,464.3 L1039.5,466.6 L1044.5,466.6 L1051.0,465.1 L1057.7,462.6 L1064.4,461.8 L1073.1,461.2 L1080.9,460.1 L1108.0,460.1" fill="none" stroke="#FF0000" stroke-width="2" stroke-linejoin="miter"/>
<path d="M188.0,161.0 L207.0,161.0 L215.0,166.0 L674.0,166.0 L683.0,161.0 L692.0,161.0 L709.7,172.0 L721.0,172.0 L730.0,178.0 L741.0,172.6 L749.0,178.0 L761.5,189.0 L768.0,194.0 L798.0,194.0 L807.0,199.5 L819.0,199.5 L826.5,194.3 L839.0,194.3 L847.0,188.2 L868.0,188.2 L875.5,184.0 L879.0,184.3 L887.0,188.3 L895.5,183.0 L917.0,183.0 L925.0,178.0 L936.0,178.0 L945.5,172.0 L1002.5,172.0 L1011.0,166.7 L1022.0,161.2 L1031.0,161.2 L1040.0,166.0 L1108.0,166.0" fill="none" stroke="#0000FF" stroke-width="2" stroke-linejoin="miter"/>
<rect x="361" y="608" width="2" height="13" fill="#000"/>
<circle cx="362.5" cy="637.5" r="4.9" fill="#D8D8D8" stroke="#000" stroke-width="1.3" shape-rendering="geometricPrecision"/><path d="M359,640 L365,634 M360.5,641 L366,635.5" stroke="#F4F4F4" stroke-width="1" shape-rendering="geometricPrecision"/>
<rect x="514" y="608" width="2" height="13" fill="#FFFF00"/>
<path d="M519.60,638.00L521.60,638.00M518.25,641.25L519.67,642.67M515.00,642.60L515.00,644.60M511.75,641.25L510.33,642.67M510.40,638.00L508.40,638.00M511.75,634.75L510.33,633.33M515.00,633.40L515.00,631.40M518.25,634.75L519.67,633.33" stroke="#FFFF90" stroke-width="1.2" fill="none" shape-rendering="geometricPrecision"/>
<circle cx="515" cy="638" r="3.5" fill="#FFFF00" shape-rendering="geometricPrecision"/>
<rect x="818" y="612" width="2" height="9" fill="#FFFF00"/>
<rect x="817.5" y="635.5" width="5" height="5" fill="none" stroke="#FFFF60" stroke-width="1"/>
<path d="M40,641 L40,639 Q40,635 44.5,635 Q49,635 49,639 L49,641 Z" fill="#FFFF00" shape-rendering="geometricPrecision"/>
<text transform="translate(11,641) scale(1,1.15)" fill="#000" font-size="10.6">07:51</text>
<text transform="translate(482,641) scale(1,1.15)" fill="#000" font-size="10.6">08:25</text>
<text transform="translate(786,641) scale(1,1.15)" fill="#000" font-size="10.6">16:17</text>
<rect x="1" y="652" width="1270" height="72" fill="#E3FBCD"/>
<line x1="87.5" y1="652" x2="87.5" y2="724" stroke="#FFFFFF" stroke-width="1"/>
<line x1="88.5" y1="652" x2="88.5" y2="724" stroke="#A0A0A0" stroke-width="1"/>
<line x1="204.5" y1="652" x2="204.5" y2="724" stroke="#FFFFFF" stroke-width="1"/>
<line x1="205.5" y1="652" x2="205.5" y2="724" stroke="#A0A0A0" stroke-width="1"/>
<line x1="322.5" y1="652" x2="322.5" y2="724" stroke="#FFFFFF" stroke-width="1"/>
<line x1="323.5" y1="652" x2="323.5" y2="724" stroke="#A0A0A0" stroke-width="1"/>
<line x1="440.5" y1="652" x2="440.5" y2="724" stroke="#FFFFFF" stroke-width="1"/>
<line x1="441.5" y1="652" x2="441.5" y2="724" stroke="#A0A0A0" stroke-width="1"/>
<line x1="558.5" y1="652" x2="558.5" y2="724" stroke="#FFFFFF" stroke-width="1"/>
<line x1="559.5" y1="652" x2="559.5" y2="724" stroke="#A0A0A0" stroke-width="1"/>
<line x1="676.5" y1="652" x2="676.5" y2="724" stroke="#FFFFFF" stroke-width="1"/>
<line x1="677.5" y1="652" x2="677.5" y2="724" stroke="#A0A0A0" stroke-width="1"/>
<line x1="794.5" y1="652" x2="794.5" y2="724" stroke="#FFFFFF" stroke-width="1"/>
<line x1="795.5" y1="652" x2="795.5" y2="724" stroke="#A0A0A0" stroke-width="1"/>
<line x1="912.5" y1="652" x2="912.5" y2="724" stroke="#FFFFFF" stroke-width="1"/>
<line x1="913.5" y1="652" x2="913.5" y2="724" stroke="#A0A0A0" stroke-width="1"/>
<line x1="1271.5" y1="652" x2="1271.5" y2="724" stroke="#A0A0A0" stroke-width="1"/>
<text transform="translate(9,670) scale(1.0,1.05)" fill="#000" stroke="#000" stroke-width="0.3" font-size="11.5" font-weight="bold">Sensor</text>
<text transform="translate(9,686) scale(1.0,1.05)" fill="#000" stroke="#000" stroke-width="0.3" font-size="11.5" font-weight="bold">MinWert</text>
<text transform="translate(9,702) scale(1.0,1.05)" fill="#000" stroke="#000" stroke-width="0.3" font-size="11.5" font-weight="bold">MaxWert</text>
<text transform="translate(9,718) scale(1.0,1.05)" fill="#000" stroke="#000" stroke-width="0.3" font-size="11.5" font-weight="bold">Durchschnitt</text>
<text transform="translate(94,670) scale(1.0,1.05)" fill="#000" stroke="#000" stroke-width="0.3" font-size="11.5" font-weight="bold">Außen</text>
<text transform="translate(198,670) scale(1.0,1.05)" fill="#000" stroke="#000" stroke-width="0.3" font-size="11.5" text-anchor="end" font-weight="bold">°C</text>
<text transform="translate(101,686) scale(1.0,1.15)" fill="#000" stroke="#000" stroke-width="0.12" font-size="10.6">03:45</text>
<text transform="translate(198,686) scale(1.0,1.15)" fill="#000" stroke="#000" stroke-width="0.12" font-size="10.6" text-anchor="end">1.2</text>
<text transform="translate(101,702) scale(1.0,1.15)" fill="#000" stroke="#000" stroke-width="0.12" font-size="10.6">15:00</text>
<text transform="translate(198,702) scale(1.0,1.15)" fill="#000" stroke="#000" stroke-width="0.12" font-size="10.6" text-anchor="end">6.0</text>
<text transform="translate(101,718) scale(1.0,1.15)" fill="#000" stroke="#000" stroke-width="0.12" font-size="10.6">(+ 2.04 )</text>
<text transform="translate(198,718) scale(1.0,1.15)" fill="#000" stroke="#000" stroke-width="0.12" font-size="10.6" text-anchor="end">3.33</text>
<text transform="translate(213,670) scale(1.0,1.05)" fill="#000" stroke="#000" stroke-width="0.3" font-size="11.5" font-weight="bold">Feuchte</text>
<text transform="translate(316,670) scale(1.0,1.05)" fill="#000" stroke="#000" stroke-width="0.3" font-size="11.5" text-anchor="end" font-weight="bold">%</text>
<text transform="translate(219,686) scale(1.0,1.15)" fill="#000" stroke="#000" stroke-width="0.12" font-size="10.6">16:00</text>
<text transform="translate(316,686) scale(1.0,1.15)" fill="#000" stroke="#000" stroke-width="0.12" font-size="10.6" text-anchor="end">75</text>
<text transform="translate(219,702) scale(1.0,1.15)" fill="#000" stroke="#000" stroke-width="0.12" font-size="10.6">00:00</text>
<text transform="translate(316,702) scale(1.0,1.15)" fill="#000" stroke="#000" stroke-width="0.12" font-size="10.6" text-anchor="end">82</text>
<text transform="translate(316,718) scale(1.0,1.15)" fill="#000" stroke="#000" stroke-width="0.12" font-size="10.6" text-anchor="end">80</text>
<text transform="translate(331,670) scale(1.0,1.05)" fill="#000" stroke="#000" stroke-width="0.3" font-size="11.5" font-weight="bold">Luftdruck</text>
<text transform="translate(434,670) scale(1.0,1.05)" fill="#000" stroke="#000" stroke-width="0.3" font-size="11.5" text-anchor="end" font-weight="bold">hPa</text>
<text transform="translate(337,686) scale(1.0,1.15)" fill="#000" stroke="#000" stroke-width="0.12" font-size="10.6">00:15</text>
<text transform="translate(434,686) scale(1.0,1.15)" fill="#000" stroke="#000" stroke-width="0.12" font-size="10.6" text-anchor="end">997.3</text>
<text transform="translate(337,702) scale(1.0,1.15)" fill="#000" stroke="#000" stroke-width="0.12" font-size="10.6">22:30</text>
<text transform="translate(434,702) scale(1.0,1.15)" fill="#000" stroke="#000" stroke-width="0.12" font-size="10.6" text-anchor="end">1005.5</text>
<text transform="translate(331,718) scale(1.0,1.15)" fill="#000" stroke="#000" stroke-width="0.12" font-size="10.6">^1.1hPa/h</text>
<text transform="translate(434,718) scale(1.0,1.15)" fill="#000" stroke="#000" stroke-width="0.12" font-size="10.6" text-anchor="end">1001.4</text>
<text transform="translate(448,670) scale(1.0,1.05)" fill="#000" stroke="#000" stroke-width="0.3" font-size="11.5" font-weight="bold">Wind</text>
<text transform="translate(552,670) scale(1.0,1.05)" fill="#000" stroke="#000" stroke-width="0.3" font-size="11.5" text-anchor="end" font-weight="bold">km/h</text>
<text transform="translate(448,686) scale(1.0,1.15)" fill="#000" stroke="#000" stroke-width="0.12" font-size="10.6">Ø 10 min.</text>
<text transform="translate(552,686) scale(1.0,1.15)" fill="#000" stroke="#000" stroke-width="0.12" font-size="10.6" text-anchor="end">5.0</text>
<text transform="translate(455,702) scale(1.0,1.15)" fill="#000" stroke="#000" stroke-width="0.12" font-size="10.6">21:30</text>
<text transform="translate(552,702) scale(1.0,1.15)" fill="#000" stroke="#000" stroke-width="0.12" font-size="10.6" text-anchor="end">W-SW 15.8</text>
<text transform="translate(455,718) scale(1.0,1.15)" fill="#000" stroke="#000" stroke-width="0.12" font-size="10.6">220.5 km</text>
<text transform="translate(552,718) scale(1.0,1.15)" fill="#000" stroke="#000" stroke-width="0.12" font-size="10.6" text-anchor="end">9.2</text>
<text transform="translate(567,670) scale(1.0,1.05)" fill="#000" stroke="#000" stroke-width="0.3" font-size="11.5" font-weight="bold">Richtung</text>
<text transform="translate(573,686) scale(1.0,1.15)" fill="#000" stroke="#000" stroke-width="0.12" font-size="10.6">06:00</text>
<text transform="translate(669,686) scale(1.0,1.15)" fill="#000" stroke="#000" stroke-width="0.12" font-size="10.6" text-anchor="end">O</text>
<text transform="translate(573,702) scale(1.0,1.15)" fill="#000" stroke="#000" stroke-width="0.12" font-size="10.6">14:00</text>
<text transform="translate(669,702) scale(1.0,1.15)" fill="#000" stroke="#000" stroke-width="0.12" font-size="10.6" text-anchor="end">W</text>
<text transform="translate(669,718) scale(1.0,1.15)" fill="#000" stroke="#000" stroke-width="0.12" font-size="10.6" text-anchor="end">S</text>
<text transform="translate(685,670) scale(1.0,1.15)" fill="#000" stroke="#000" stroke-width="0.12" font-size="10.6">Regen/1h</text>
<text transform="translate(789,670) scale(1.0,1.15)" fill="#000" stroke="#000" stroke-width="0.12" font-size="10.6" text-anchor="end">0.00l/m²</text>
<text transform="translate(685,686) scale(1.0,1.15)" fill="#000" stroke="#000" stroke-width="0.12" font-size="10.6">Regen/Tag</text>
<text transform="translate(789,686) scale(1.0,1.15)" fill="#000" stroke="#000" stroke-width="0.12" font-size="10.6" text-anchor="end">1.10l/m²</text>
<text transform="translate(685,702) scale(1.0,1.15)" fill="#000" stroke="#000" stroke-width="0.12" font-size="10.6">Neumond</text>
<text transform="translate(789,702) scale(1.0,1.15)" fill="#000" stroke="#000" stroke-width="0.12" font-size="10.6" text-anchor="end">13.01.21</text>
<text transform="translate(685,718) scale(1.0,1.15)" fill="#000" stroke="#000" stroke-width="0.12" font-size="10.6">Vollmond</text>
<text transform="translate(789,718) scale(1.0,1.15)" fill="#000" stroke="#000" stroke-width="0.12" font-size="10.6" text-anchor="end">28.01.21</text>
<text transform="translate(802,670) scale(1.0,1.15)" fill="#000" stroke="#000" stroke-width="0.12" font-size="10.6">Wolkenunterg</text>
<text transform="translate(906,670) scale(1.0,1.15)" fill="#000" stroke="#000" stroke-width="0.12" font-size="10.6" text-anchor="end">452m</text>
<text transform="translate(802,686) scale(1.0,1.15)" fill="#000" stroke="#000" stroke-width="0.12" font-size="10.6">Sichtweite</text>
<text transform="translate(906,686) scale(1.0,1.15)" fill="#000" stroke="#000" stroke-width="0.12" font-size="10.6" text-anchor="end">5-10km</text>
<text transform="translate(802,702) scale(1.0,1.15)" fill="#000" stroke="#000" stroke-width="0.12" font-size="10.6">Schneefallgr</text>
<text transform="translate(906,702) scale(1.0,1.15)" fill="#000" stroke="#000" stroke-width="0.12" font-size="10.6" text-anchor="end">560m</text>
<text transform="translate(802,718) scale(1.0,1.15)" fill="#000" stroke="#000" stroke-width="0.12" font-size="10.6">Schneehöhe</text>
<text transform="translate(906,718) scale(1.0,1.15)" fill="#000" stroke="#000" stroke-width="0.12" font-size="10.6" text-anchor="end">0cm</text>
<text transform="translate(920,670) scale(1.0,1.05)" fill="#000" stroke="#000" stroke-width="0.3" font-size="11.5" font-weight="bold">Solar</text>
<text transform="translate(1022,670) scale(1.0,1.05)" fill="#000" stroke="#000" stroke-width="0.3" font-size="11.5" text-anchor="end" font-weight="bold">W/m²</text>
<text transform="translate(920,686) scale(1.0,1.15)" fill="#000" stroke="#000" stroke-width="0.12" font-size="10.6">Elevation</text>
<text transform="translate(1022,686) scale(1.0,1.15)" fill="#000" stroke="#000" stroke-width="0.12" font-size="10.6" text-anchor="end">-60.486</text>
<text transform="translate(927,702) scale(1.0,1.15)" fill="#000" stroke="#000" stroke-width="0.12" font-size="10.6">13:00</text>
<text transform="translate(1022,702) scale(1.0,1.15)" fill="#000" stroke="#000" stroke-width="0.12" font-size="10.6" text-anchor="end">199</text>
<text transform="translate(920,718) scale(1.0,1.15)" fill="#000" stroke="#000" stroke-width="0.12" font-size="10.6">1:30 h</text>
<text transform="translate(1022,718) scale(1.0,1.15)" fill="#000" stroke="#000" stroke-width="0.12" font-size="10.6" text-anchor="end">54</text>
</svg>
</body></html>
